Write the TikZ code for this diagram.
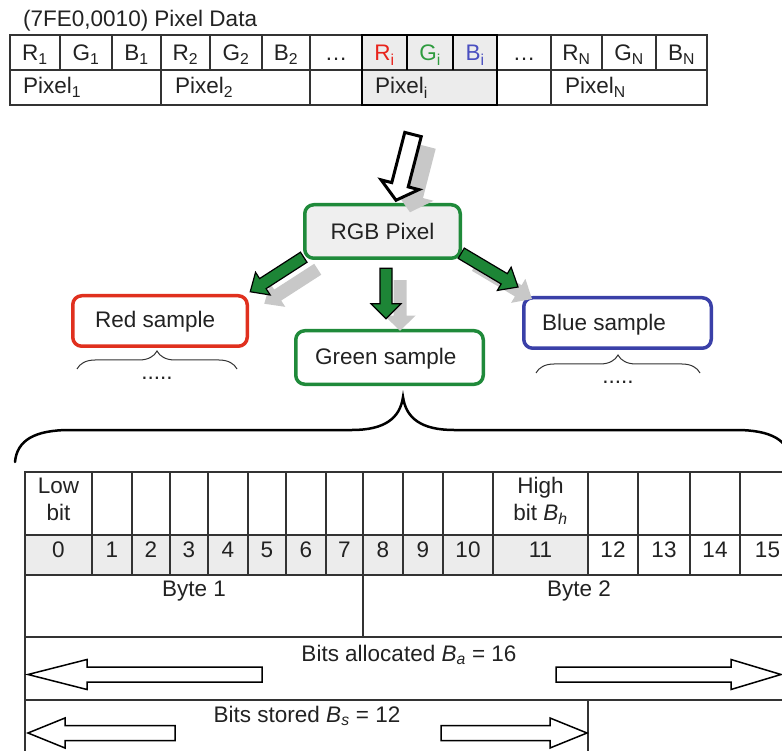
\documentclass[tikz,border=0pt]{standalone}
\usepackage{fontspec}
\setmainfont{Liberation Sans}
\usetikzlibrary{calc,decorations.pathreplacing}

\definecolor{ink}{HTML}{222222}
\definecolor{gridc}{HTML}{333333}
\definecolor{cellgray}{HTML}{ECECEC}
\definecolor{rgbfill}{HTML}{EFEFEF}
\definecolor{redc}{HTML}{E0301E}
\definecolor{greenc}{HTML}{1F8A3A}
\definecolor{bluec}{HTML}{3A40A8}
\definecolor{redtxt}{HTML}{E8231B}
\definecolor{greentxt}{HTML}{2E9B3E}
\definecolor{bluetxt}{HTML}{4A4FC0}
\definecolor{arrowgreen}{HTML}{1D8536}
\definecolor{shadowc}{HTML}{C8C8C8}

% block arrow: name, style, tail, tip, shaft half-width, head half-width, head length
\newcommand{\blockarrow}[7]{%
  \coordinate (#1-h) at ($(#4)!#7!(#3)$);
  \path[#2] ($(#3)!#5!90:(#4)$) -- ($(#1-h)!#5!90:(#4)$) -- ($(#1-h)!#6!90:(#4)$) -- (#4)
    -- ($(#1-h)!#6!-90:(#4)$) -- ($(#1-h)!#5!-90:(#4)$) -- ($(#3)!#5!-90:(#4)$) -- cycle;}

\begin{document}
\begin{tikzpicture}[x=1pt,y=-1pt,
  font=\fontsize{22.5pt}{27pt}\selectfont, text=ink,
  cell/.style={draw=gridc, line width=1.2pt, inner sep=0pt, outer sep=0pt,
    anchor=north west, minimum height=35pt},
  bitcell/.style={draw=gridc, line width=1.2pt, inner sep=0pt, outer sep=0pt,
    anchor=north west},
  lbl/.style={anchor=base, inner sep=0pt},
  lblw/.style={anchor=base west, inner sep=0pt},
  roundbox/.style={draw, line width=3.5pt, rounded corners=9pt, inner sep=0pt,
    outer sep=0pt, fill=white},
  hollow/.style={draw=black, fill=white, line width=3pt, line join=miter},
  hollowthin/.style={draw=black, fill=white, line width=1.5pt, line join=miter},
  greenarrow/.style={draw=black, fill=arrowgreen, line width=1.2pt, line join=miter},
  shadow/.style={fill=shadowc},
  smallbrace/.style={draw=gridc, line width=1pt, decorate,
    decoration={brace, amplitude=18pt}},
]
\useasboundingbox (0,0) rectangle (782,751);
\clip (0,0) rectangle (782,751);

% ---------- pixel data element ----------
\node[lblw] (title) at (23,27) {(7FE0,0010) Pixel Data};

\foreach \n/\a/\b/\c/\f/\t in {
  r1/10/60/ink/white/{R\textsubscript{1}},
  g1/60/112/ink/white/{G\textsubscript{1}},
  b1/112/161/ink/white/{B\textsubscript{1}},
  r2/161/210/ink/white/{R\textsubscript{2}},
  g2/210/262/ink/white/{G\textsubscript{2}},
  b2/262/310/ink/white/{B\textsubscript{2}},
  da/310/362/ink/white/{…},
  ri/362/407/redtxt/cellgray/{R\textsubscript{i}},
  gi/407/453/greentxt/cellgray/{G\textsubscript{i}},
  bi/453/497/bluetxt/cellgray/{B\textsubscript{i}},
  db/497/551/ink/white/{…},
  rn/551/602/ink/white/{R\textsubscript{N}},
  gn/602/656/ink/white/{G\textsubscript{N}},
  bn/656/707/ink/white/{B\textsubscript{N}}}{
  \node[cell, fill=\f, minimum width={\b-\a}] (\n) at (\a,35) {};
  \node[lbl, text=\c] (\n-t) at (\n.center |- 0,61) {\t};
}

\node[cell, minimum width=151pt] (pix1) at (10,70) {};
\node[cell, minimum width=149pt] (pix2) at (161,70) {};
\node[cell, minimum width=52pt] (pixgapa) at (310,70) {};
\node[cell, fill=cellgray, minimum width=135pt] (pixi) at (362,70) {};
\node[cell, minimum width=54pt] (pixgapb) at (497,70) {};
\node[cell, minimum width=156pt] (pixn) at (551,70) {};
\node[lblw] (pix1-t) at (23,94) {Pixel\textsubscript{1}};
\node[lblw] (pix2-t) at (175,94) {Pixel\textsubscript{2}};
\node[lblw] (pixi-t) at (375,94) {Pixel\textsubscript{i}};
\node[lblw] (pixn-t) at (565,94) {Pixel\textsubscript{N}};

% highlighted pixel i
\draw[line width=2.5pt, line join=miter] (ri.north west) rectangle (pixi.south east);
\draw[line width=2.5pt] (gi.north west) -- (gi.south west);
\draw[line width=2.5pt] (bi.north west) -- (bi.south west);

% ---------- colour samples ----------
\node[roundbox, draw=greenc, fill=rgbfill, minimum width=155.5pt, minimum height=53.5pt]
  (rgb) at (382.5,231.5) {RGB Pixel};
\node[roundbox, draw=redc, minimum width=174.5pt, minimum height=50.5pt] (red) at (160,321) {};
\node[roundbox, draw=greenc, minimum width=187.5pt, minimum height=53.5pt] (green) at (389.5,357.5) {};
\node[roundbox, draw=bluec, minimum width=187.5pt, minimum height=50.5pt] (blue) at (617.5,323) {};
\node[lblw] (red-t) at (95,328) {Red sample};
\node[lblw] (green-t) at (315,365) {Green sample};
\node[lblw] (blue-t) at (542,331) {Blue sample};

% braces under the red and blue samples
\draw[smallbrace] (77,369) -- (237,369);
\node[lbl] (red-dots) at (157,379) {.....};
\draw[smallbrace] (536,373) -- (700,373);
\node[lbl] (blue-dots) at (618,384) {.....};

% ---------- arrows ----------
\coordinate (hol-tail) at ($(pixi.south)+(-16.5,29.5)$);
\coordinate (hol-tip) at ($(rgb.north)+(13.5,-4.5)$);
\coordinate (gl-tail) at ($(rgb.south west)+(-1,-1)$);
\coordinate (gl-tip) at ($(red.north east)+(3,-4)$);
\coordinate (gm-tail) at ($(rgb.south)+(3.5,10)$);
\coordinate (gm-tip) at ($(green.north)+(-3.5,-12)$);
\coordinate (gr-tail) at ($(rgb.south east)+(1,-5)$);
\coordinate (gr-tip) at ($(blue.north west)+(-5.75,-10.75)$);
\foreach \a in {hol,gl,gm,gr}{
  \coordinate (\a s-tail) at ($(\a-tail)+(14,12)$);
  \coordinate (\a s-tip) at ($(\a-tip)+(14,12)$);
}
\blockarrow{hols}{shadow}{hols-tail}{hols-tip}{9pt}{20pt}{17pt}
\blockarrow{gls}{shadow}{gls-tail}{gls-tip}{6.5pt}{14pt}{16pt}
\blockarrow{gms}{shadow}{gms-tail}{gms-tip}{6.5pt}{15.5pt}{15pt}
\blockarrow{grs}{shadow}{grs-tail}{grs-tip}{6.5pt}{14pt}{16pt}
\blockarrow{hol}{hollow}{hol-tail}{hol-tip}{8.5pt}{19.5pt}{16pt}
\blockarrow{gl}{greenarrow}{gl-tail}{gl-tip}{6pt}{13.5pt}{15pt}
\blockarrow{gm}{greenarrow}{gm-tail}{gm-tip}{6pt}{15pt}{15pt}
\blockarrow{gr}{greenarrow}{gr-tail}{gr-tip}{6pt}{13.5pt}{16pt}

% big brace over the bit layout
\draw[line width=2.5pt, line cap=round]
  (15,462) .. controls (17,440) and (35,430) .. (70,430) -- (352,430)
  .. controls (385,430) and (400,418) .. (403,397)
  .. controls (406,418) and (421,430) .. (454,430) -- (736,430)
  .. controls (771,430) and (789,440) .. (791,462);

% ---------- bit layout of one sample ----------
\foreach \i/\a/\b/\f in {0/25/92/cellgray,1/92/132/cellgray,2/132/170/cellgray,
  3/170/208/cellgray,4/208/248/cellgray,5/248/286/cellgray,6/286/326/cellgray,
  7/326/363/cellgray,8/363/403/cellgray,9/403/443/cellgray,10/443/493/cellgray,
  11/493/588/cellgray,12/588/638/white,13/638/690/white,14/690/740/white,15/740/795/white}{
  \node[bitcell, minimum width={\b-\a}, minimum height=63pt] (lab\i) at (\a,472) {};
  \node[bitcell, fill=\f, minimum width={\b-\a}, minimum height=40pt] (num\i) at (\a,535) {};
  \node[lbl] (num\i-t) at (num\i.center |- 0,557) {\i};
}
\node[lbl] (low-t) at (lab0.center |- 0,493) {Low};
\node[lbl] (lowbit-t) at (lab0.center |- 0,520) {bit};
\node[lbl] (high-t) at (lab11.center |- 0,493) {High};
\node[lbl] (highbit-t) at (lab11.center |- 0,520) {bit \textit{B}\textsubscript{\textit{h}}};

\node[bitcell, minimum width=338pt, minimum height=62pt] (byte1) at (25,575) {};
\node[bitcell, minimum width=432pt, minimum height=62pt] (byte2) at (363,575) {};
\node[lbl] (byte1-t) at (byte1.center |- 0,596) {Byte 1};
\node[lbl] (byte2-t) at (byte2.center |- 0,596) {Byte 2};

\node[bitcell, minimum width=770pt, minimum height=63pt] (alloc) at (25,637) {};
\node[bitcell, minimum width=563pt, minimum height=60pt] (stored) at (25,700) {};
\node[bitcell, minimum width=207pt, minimum height=60pt] (spare) at (588,700) {};
\node[lbl] (alloc-t) at (409,661) {Bits allocated \textit{B}\textsubscript{\textit{a}} = 16};
\node[lbl] (stored-t) at (307,722) {Bits stored \textit{B}\textsubscript{\textit{s}} = 12};

\coordinate (al-tail) at (262,674.5);
\coordinate (al-tip) at (28,674.5);
\coordinate (ar-tail) at (556,674.5);
\coordinate (ar-tip) at (781,674.5);
\coordinate (sl-tail) at (175,733);
\coordinate (sl-tip) at (28,733);
\coordinate (sr-tail) at (441,733);
\coordinate (sr-tip) at (587,733);
\blockarrow{al}{hollowthin}{al-tail}{al-tip}{7.5pt}{15pt}{59pt}
\blockarrow{ar}{hollowthin}{ar-tail}{ar-tip}{7.5pt}{15pt}{50pt}
\blockarrow{sl}{hollowthin}{sl-tail}{sl-tip}{7.5pt}{15pt}{37pt}
\blockarrow{sr}{hollowthin}{sr-tail}{sr-tip}{7.5pt}{15pt}{37pt}
\end{tikzpicture}
\end{document}
